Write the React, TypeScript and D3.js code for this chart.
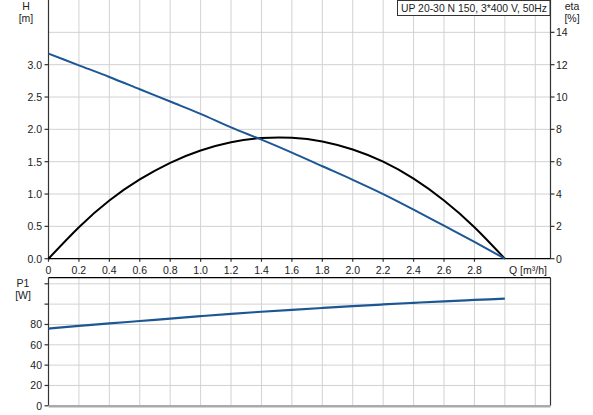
import * as d3 from 'd3';

// Flow points, m³/h
const flow = [0, 0.2, 0.4, 0.6, 0.8, 1.0, 1.2, 1.4, 1.6, 1.8, 2.0, 2.2, 2.4, 2.6, 2.8, 3.0];
// Head, m
const head = [3.17, 2.99, 2.81, 2.62, 2.43, 2.24, 2.03, 1.84, 1.64, 1.43, 1.22, 1.0, 0.76, 0.51, 0.26, 0];
// Efficiency, %
const eta = [0, 1.95, 3.6, 4.9, 5.93, 6.69, 7.2, 7.46, 7.48, 7.25, 6.75, 6.0, 4.95, 3.6, 1.95, 0];
// Power input P1, W
const power = [76, 78.6, 81, 83.4, 85.8, 88.2, 90.5, 92.5, 94.4, 96.2, 98, 99.7, 101.3, 102.8, 104.1, 105.4];

const qTicks = [0, 0.2, 0.4, 0.6, 0.8, 1.0, 1.2, 1.4, 1.6, 1.8, 2.0, 2.2, 2.4, 2.6, 2.8];
const qGrid = [0.2, 0.4, 0.6, 0.8, 1.0, 1.2, 1.4, 1.6, 1.8, 2.0, 2.2, 2.4, 2.6, 2.8, 3.0, 3.2];
const hTicks = [0, 0.5, 1.0, 1.5, 2.0, 2.5, 3.0];
const hGrid = [0.5, 1.0, 1.5, 2.0, 2.5, 3.0, 3.5];
const etaTicks = [0, 2, 4, 6, 8, 10, 12, 14];
const pTicks = [0, 20, 40, 60, 80];
const pGrid = [20, 40, 60, 80, 100, 120];

const title = 'UP 20-30 N 150, 3*400 V, 50Hz';

const W = 593;
const H = 415;
const left = 48.5;
const right = 550.5;
const topBottom = 258.7;
const p1Top = 277.7;
const p1Bottom = 405.8;

const font = 'Arial, "Liberation Sans", sans-serif';
const blue = '#1c5794';
const gridColor = '#d2d2d2';
const axisColor = '#333';

export default function App() {
  const x = d3.scaleLinear().domain([0, 3.3]).range([left, right]);
  const yH = d3.scaleLinear().domain([0, 4]).range([topBottom, 0]);
  const yEta = d3.scaleLinear().domain([0, 16]).range([topBottom, 0]);
  const yP = d3.scaleLinear().domain([0, 126]).range([p1Bottom, p1Top]);

  const headLine = d3
    .line<number>()
    .x((_, i) => x(flow[i]))
    .y((d) => yH(d))
    .curve(d3.curveMonotoneX);
  const etaLine = d3
    .line<number>()
    .x((_, i) => x(flow[i]))
    .y((d) => yEta(d))
    .curve(d3.curveNatural);
  const powerLine = d3
    .line<number>()
    .x((_, i) => x(flow[i]))
    .y((d) => yP(d))
    .curve(d3.curveMonotoneX);

  const txt = { fontFamily: font, fontSize: 10.5, fill: '#222' };

  return (
    <>
      <style>{'body{margin:0}'}</style>
      <svg width={W} height={H} style={{ display: 'block', background: '#fff' }}>
        {/* grids */}
        <g stroke={gridColor} strokeWidth={1}>
          {qGrid.map((q) => (
            <line key={`vq${q}`} x1={x(q)} x2={x(q)} y1={0} y2={topBottom} />
          ))}
          {hGrid.map((h) => (
            <line key={`hh${h}`} x1={left} x2={right} y1={yH(h)} y2={yH(h)} />
          ))}
          {qGrid.map((q) => (
            <line key={`vp${q}`} x1={x(q)} x2={x(q)} y1={p1Top} y2={p1Bottom} />
          ))}
          {pGrid.map((p) => (
            <line key={`hp${p}`} x1={left} x2={right} y1={yP(p)} y2={yP(p)} />
          ))}
        </g>

        {/* upper plot axes */}
        <g stroke={axisColor} strokeWidth={1.2} fill="none">
          <line x1={left} x2={left} y1={0} y2={topBottom} />
          <line x1={right} x2={right} y1={0} y2={topBottom} />
          <line x1={left} x2={right} y1={topBottom} y2={topBottom} stroke="#000" />
          {hTicks.map((h) => (
            <line key={`th${h}`} x1={left - 4} x2={left} y1={yH(h)} y2={yH(h)} />
          ))}
          {etaTicks.map((e) => (
            <line key={`te${e}`} x1={right} x2={right + 4} y1={yEta(e)} y2={yEta(e)} />
          ))}
          {qTicks.map((q) => (
            <line key={`tq${q}`} x1={x(q)} x2={x(q)} y1={topBottom} y2={topBottom + 3} />
          ))}
        </g>

        {/* lower plot frame */}
        <g stroke={axisColor} strokeWidth={1.2} fill="none">
          <line x1={left} x2={right} y1={p1Top} y2={p1Top} stroke="#000" />
          <line x1={left} x2={left} y1={p1Top} y2={p1Bottom} />
          <line x1={right} x2={right} y1={p1Top} y2={p1Bottom} />
          {pGrid.concat([0]).map((p) => (
            <line key={`tp${p}`} x1={left - 4} x2={left} y1={yP(p)} y2={yP(p)} />
          ))}
        </g>
        <line x1={left} x2={right} y1={p1Bottom + 0.5} y2={p1Bottom + 0.5} stroke="#aaa" strokeWidth={2.5} />

        {/* curves */}
        <path d={etaLine(eta) ?? ''} fill="none" stroke="#000" strokeWidth={2} />
        <path d={headLine(head) ?? ''} fill="none" stroke={blue} strokeWidth={2} />
        <path d={powerLine(power) ?? ''} fill="none" stroke={blue} strokeWidth={2.2} />

        {/* tick labels */}
        {hTicks.map((h) => (
          <text key={`lh${h}`} {...txt} x={42} y={yH(h)} textAnchor="end" dominantBaseline="central">
            {h.toFixed(1)}
          </text>
        ))}
        {etaTicks.map((e) => (
          <text key={`le${e}`} {...txt} x={556} y={yEta(e)} dominantBaseline="central">
            {e}
          </text>
        ))}
        {qTicks.map((q) => (
          <text key={`lq${q}`} {...txt} x={x(q)} y={269.5} textAnchor="middle" dominantBaseline="central">
            {q === 0 ? '0' : q.toFixed(1)}
          </text>
        ))}
        {pTicks.map((p) => (
          <text key={`lp${p}`} {...txt} x={42} y={yP(p)} textAnchor="end" dominantBaseline="central">
            {p}
          </text>
        ))}

        {/* axis titles */}
        <text {...txt} x={509} y={269.5} dominantBaseline="central">
          Q [m³/h]
        </text>
        <text {...txt} x={26} y={6} textAnchor="middle" dominantBaseline="central">H</text>
        <text {...txt} x={26} y={18} textAnchor="middle" dominantBaseline="central">[m]</text>
        <text {...txt} x={572} y={6} textAnchor="middle" dominantBaseline="central">eta</text>
        <text {...txt} x={572} y={18} textAnchor="middle" dominantBaseline="central">[%]</text>
        <text {...txt} x={23} y={283} textAnchor="middle" dominantBaseline="central">P1</text>
        <text {...txt} x={23} y={295} textAnchor="middle" dominantBaseline="central">[W]</text>

        {/* title box */}
        <rect x={397.5} y={0.5} width={152.5} height={15} fill="#fff" stroke="#333" strokeWidth={1} />
        <text
          {...txt}
          fontSize={10.3}
          x={474}
          y={8.5}
          textAnchor="middle"
          dominantBaseline="central"
          textLength={146}
          lengthAdjust="spacingAndGlyphs"
        >
          {title}
        </text>
      </svg>
    </>
  );
}
